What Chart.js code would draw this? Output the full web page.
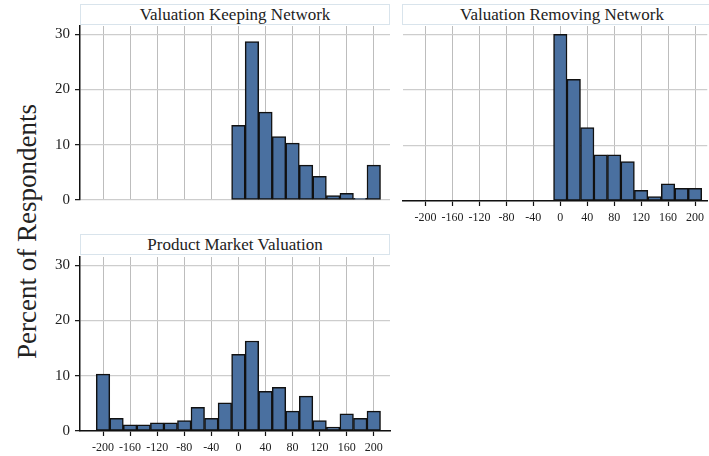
<!DOCTYPE html>
<html>
<head>
<meta charset="utf-8">
<script src="https://cdn.jsdelivr.net/npm/chart.js@4/dist/chart.umd.min.js"></script>
<style>
  html, body { margin: 0; padding: 0; background: #ffffff; overflow: hidden; }
  body { width: 709px; height: 456px; position: relative; }
  canvas { position: absolute; }
  .strip {
    position: absolute; box-sizing: border-box; background: #ffffff;
    border: 1px solid #d9e4ec; font-family: 'Liberation Serif', serif;
    font-size: 17px; color: #222; text-align: center; line-height: 19px;
  }
  .ylab {
    position: absolute; font-family: 'Liberation Serif', serif; font-size: 27px; color: #222;
    white-space: nowrap; transform-origin: center center;
  }
</style>
</head>
<body>
<div class="strip" style="left:80px; top:4px; width:310px; height:21px;">Valuation Keeping Network</div>
<div class="strip" style="left:402px; top:4px; width:320px; height:21px;">Valuation Removing Network</div>
<div class="strip" style="left:80px; top:234px; width:310px; height:21px;">Product Market Valuation</div>
<div class="ylab" id="ylab">Percent of Respondents</div>

<canvas id="cKeep" width="392" height="214" style="left:0px; top:0px; width:392px; height:214px;"></canvas>
<canvas id="cRemove" width="314" height="235" style="left:395px; top:0px; width:314px; height:235px;"></canvas>
<canvas id="cProduct" width="392" height="226" style="left:0px; top:230px; width:392px; height:226px;"></canvas>

<script>
// ---- data (bin centres, bin width 20) ----
const binCenters = [-200, -180, -160, -140, -120, -100, -80, -60, -40, -20, 0, 20, 40, 60, 80, 100, 120, 140, 160, 180, 200];
const keepingNetwork = [null, null, null, null, null, null, null, null, null, null, 13.5, 28.7, 15.9, 11.5, 10.3, 6.3, 4.3, 0.8, 1.2, 0.3, 6.3];
const removingNetwork = [null, null, null, null, null, null, null, null, null, null, 30.0, 21.9, 13.2, 8.3, 8.3, 7.1, 1.9, 0.8, 3.1, 2.3, 2.3];
const productMarket = [10.3, 2.3, 1.1, 1.1, 1.5, 1.5, 1.9, 4.3, 2.3, 5.1, 13.9, 16.3, 7.2, 7.9, 3.6, 6.3, 1.9, 0.7, 3.1, 2.3, 3.6];
const xTickValues = [-200, -160, -120, -80, -40, 0, 40, 80, 120, 160, 200];
const yTickValues = [0, 10, 20, 30];

const FONT = 'Liberation Serif';
const BAR_FILL = '#4a70a0';
const BAR_EDGE = '#111111';
const GRID_V = '#bdbdbd';
const GRID_H = '#cdcdcd';
const SPINE = '#111111';

function makePanel(id, values, cfg) {
  const data = binCenters.map((c, i) => ({ x: c, y: values[i] }));
  return new Chart(document.getElementById(id), {
    type: 'bar',
    data: { datasets: [{
      data: data,
      backgroundColor: BAR_FILL,
      borderColor: BAR_EDGE,
      borderWidth: 1.5,
      borderSkipped: false,
      categoryPercentage: 1.0,
      barPercentage: 1.0
    }]},
    options: {
      responsive: false,
      animation: false,
      events: [],
      layout: { padding: cfg.padding },
      plugins: { legend: { display: false }, tooltip: { enabled: false }, title: { display: false } },
      scales: {
        x: {
          type: 'linear',
          min: cfg.xmin, max: cfg.xmax,
          offset: false,
          afterBuildTicks: s => { s.ticks = xTickValues.map(v => ({ value: v })); },
          afterFit: s => { s.height = cfg.xHeight; },
          grid: { display: true, offset: false, color: GRID_V, lineWidth: 1,
                  drawTicks: cfg.xTicks, tickLength: 5, tickColor: SPINE, tickWidth: 1.2 },
          border: { display: cfg.xBorder, color: SPINE, width: 1.5 },
          ticks: { display: cfg.xTicks, padding: 5, color: '#222', autoSkip: false, maxRotation: 0,
                   font: { family: FONT, size: 12 } }
        },
        y: {
          type: 'linear',
          min: 0, max: 31.5,
          afterBuildTicks: s => { s.ticks = yTickValues.map(v => ({ value: v })); },
          afterFit: s => { s.width = cfg.yWidth; },
          grid: { display: true, color: GRID_H, lineWidth: 1.3,
                  drawTicks: cfg.yTicks, tickLength: 5, tickColor: SPINE, tickWidth: 1.2 },
          border: { display: cfg.yBorder, color: SPINE, width: 1.5 },
          ticks: { display: cfg.yTicks, padding: 5, color: '#222',
                   font: { family: FONT, size: 15 } }
        }
      }
    }
  });
}

makePanel('cKeep', keepingNetwork, {
  padding: { top: 26, right: 2, left: 0, bottom: 0 },
  xmin: -234, xmax: 224, xHeight: 13, yWidth: 80,
  xTicks: false, xBorder: false, yTicks: true, yBorder: true
});
makePanel('cRemove', removingNetwork, {
  padding: { top: 26, right: 0, left: 0, bottom: 0 },
  xmin: -233.5, xmax: 218.2, xHeight: 34, yWidth: 8,
  xTicks: true, xBorder: true, yTicks: false, yBorder: false
});
makePanel('cProduct', productMarket, {
  padding: { top: 27, right: 2, left: 0, bottom: 0 },
  xmin: -234, xmax: 224, xHeight: 25, yWidth: 80,
  xTicks: true, xBorder: true, yTicks: true, yBorder: true
});

// position rotated y label centred at (27, 231)
const yl = document.getElementById('ylab');
const w = yl.offsetWidth, h = yl.offsetHeight;
yl.style.left = (27 - w / 2) + 'px';
yl.style.top = (231 - h / 2) + 'px';
yl.style.transform = 'rotate(-90deg)';
</script>
</body>
</html>
